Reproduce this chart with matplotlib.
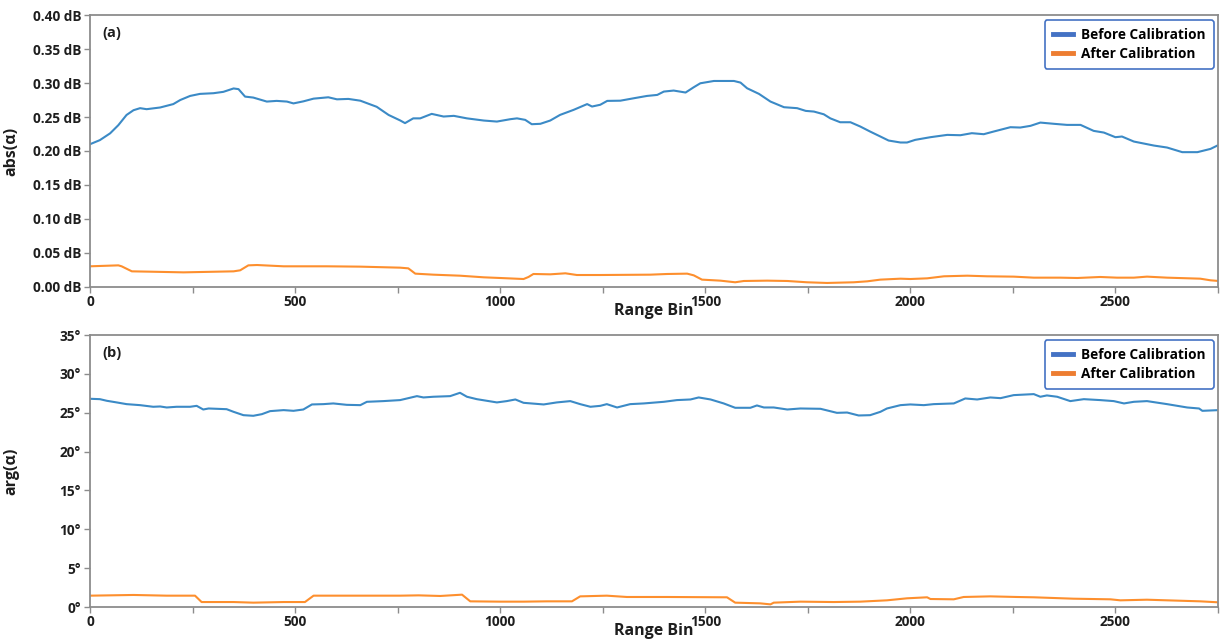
import matplotlib
matplotlib.use('Agg')
import matplotlib.pyplot as plt
from matplotlib.lines import Line2D

# (a) abs(alpha), dB
abs_before_x = [0, 24, 49, 69, 89, 106, 122, 138, 171, 203, 220, 244, 268, 301, 325, 350, 362, 378,
                398, 431, 455, 480, 496, 520, 545, 581, 602, 630, 659, 699, 728, 756, 768, 788, 805,
                833, 862, 887, 919, 960, 992, 1025, 1041, 1061, 1077, 1098, 1122, 1146, 1179, 1212,
                1224, 1244, 1261, 1293, 1326, 1358, 1383, 1399, 1423, 1452, 1472, 1488, 1521, 1570,
                1586, 1602, 1631, 1659, 1692, 1724, 1745, 1765, 1789, 1805, 1829, 1854, 1878, 1902,
                1927, 1947, 1976, 1992, 2012, 2049, 2061, 2090, 2122, 2150, 2179, 2203, 2244, 2268,
                2293, 2317, 2350, 2382, 2415, 2447, 2472, 2500, 2516, 2545, 2594, 2626, 2663, 2700,
                2732, 2752]
abs_before_y = [0.210, 0.216, 0.226, 0.238, 0.253, 0.260, 0.263, 0.2615, 0.264, 0.269, 0.275, 0.281,
                0.284, 0.285, 0.287, 0.292, 0.291, 0.280, 0.2786, 0.2727, 0.2737, 0.2727, 0.270,
                0.273, 0.277, 0.279, 0.276, 0.2766, 0.274, 0.265, 0.253, 0.245, 0.241, 0.248, 0.248,
                0.2546, 0.2507, 0.2517, 0.248, 0.2448, 0.2433, 0.2468, 0.248, 0.2458, 0.2394, 0.240,
                0.2448, 0.2531, 0.2605, 0.269, 0.2654, 0.268, 0.2737, 0.274, 0.2776, 0.281, 0.2825,
                0.2874, 0.2889, 0.286, 0.2938, 0.2996, 0.303, 0.303, 0.3006, 0.2923, 0.284, 0.2727,
                0.2644, 0.263, 0.259, 0.258, 0.254, 0.248, 0.2423, 0.2423, 0.236, 0.2286, 0.2213,
                0.2154, 0.2125, 0.2125, 0.2164, 0.2203, 0.2213, 0.2237, 0.2232, 0.2262, 0.2247,
                0.2286, 0.235, 0.2345, 0.237, 0.2418, 0.240, 0.2384, 0.2384, 0.2296, 0.2271, 0.2203,
                0.2213, 0.2139, 0.208, 0.2051, 0.1983, 0.1983, 0.2031, 0.209]

abs_after_x = [0, 69, 77, 102, 146, 228, 350, 366, 386, 407, 472, 577, 659, 756, 776, 793, 837, 902,
               960, 1000, 1057, 1069, 1081, 1122, 1159, 1187, 1244, 1366, 1407, 1456, 1472, 1492,
               1537, 1573, 1594, 1651, 1700, 1748, 1797, 1862, 1895, 1927, 1976, 2000, 2041, 2082,
               2139, 2187, 2252, 2301, 2366, 2407, 2463, 2504, 2545, 2577, 2626, 2707, 2732, 2752]
abs_after_y = [0.0304, 0.0318, 0.0304, 0.023, 0.0225, 0.0215, 0.023, 0.0245, 0.0318, 0.0323, 0.0304,
               0.0304, 0.0299, 0.0284, 0.0274, 0.0196, 0.0181, 0.0166, 0.0142, 0.0132, 0.0117,
               0.0147, 0.0191, 0.0186, 0.0201, 0.0176, 0.0176, 0.0181, 0.0191, 0.0196, 0.0171,
               0.0108, 0.0093, 0.0069, 0.0088, 0.0093, 0.0088, 0.0069, 0.0059, 0.0069, 0.0083,
               0.0108, 0.0122, 0.0117, 0.0127, 0.0157, 0.0166, 0.0157, 0.0152, 0.0137, 0.0137,
               0.0132, 0.0147, 0.0137, 0.0137, 0.0152, 0.0137, 0.0122, 0.0098, 0.0088]

# (b) arg(alpha), degrees
arg_before_x = [0, 24, 41, 65, 89, 122, 154, 171, 187, 211, 244, 260, 276, 289, 333, 350, 374, 398,
                419, 439, 472, 496, 520, 541, 569, 593, 626, 659, 675, 715, 756, 797, 813, 837, 878,
                902, 919, 943, 992, 1016, 1037, 1057, 1106, 1138, 1171, 1195, 1220, 1244, 1260, 1285,
                1317, 1350, 1399, 1431, 1464, 1484, 1513, 1545, 1573, 1610, 1626, 1643, 1667, 1700,
                1732, 1781, 1821, 1846, 1874, 1902, 1927, 1943, 1976, 2000, 2033, 2057, 2106, 2134,
                2163, 2195, 2220, 2252, 2301, 2317, 2333, 2358, 2390, 2423, 2463, 2496, 2521, 2545,
                2577, 2626, 2675, 2704, 2712, 2752]
arg_before_y = [26.8, 26.75, 26.54, 26.33, 26.11, 25.98, 25.77, 25.81, 25.68, 25.77, 25.77, 25.89,
                25.42, 25.55, 25.46, 25.12, 24.69, 24.61, 24.82, 25.21, 25.34, 25.25, 25.42, 26.07,
                26.11, 26.2, 26.02, 25.98, 26.41, 26.5, 26.63, 27.14, 26.97, 27.06, 27.14, 27.57,
                27.06, 26.75, 26.33, 26.5, 26.71, 26.28, 26.07, 26.33, 26.5, 26.11, 25.77, 25.89,
                26.11, 25.68, 26.11, 26.2, 26.41, 26.63, 26.71, 26.97, 26.71, 26.2, 25.64, 25.64,
                25.94, 25.68, 25.68, 25.42, 25.55, 25.51, 24.99, 25.03, 24.65, 24.69, 25.12, 25.55,
                25.98, 26.07, 25.98, 26.11, 26.2, 26.84, 26.71, 26.97, 26.88, 27.27, 27.4, 27.06,
                27.23, 27.06, 26.5, 26.75, 26.63, 26.5, 26.2, 26.41, 26.5, 26.11, 25.68, 25.55,
                25.25, 25.34]

arg_after_x = [0, 106, 187, 256, 272, 350, 398, 472, 524, 545, 634, 756, 801, 854, 907, 927, 1000,
               1057, 1114, 1175, 1195, 1260, 1309, 1407, 1553, 1573, 1634, 1659, 1667, 1732, 1813,
               1878, 1943, 1992, 2041, 2049, 2106, 2130, 2195, 2260, 2301, 2398, 2488, 2512, 2577,
               2626, 2707, 2752]
arg_after_y = [1.46, 1.55, 1.46, 1.46, 0.64, 0.64, 0.56, 0.64, 0.64, 1.46, 1.46, 1.46, 1.5, 1.42,
               1.59, 0.73, 0.69, 0.69, 0.73, 0.73, 1.37, 1.46, 1.29, 1.29, 1.25, 0.56, 0.47, 0.34,
               0.56, 0.69, 0.64, 0.69, 0.86, 1.12, 1.25, 1.03, 0.99, 1.29, 1.37, 1.29, 1.25, 1.07,
               0.99, 0.86, 0.94, 0.86, 0.73, 0.6]

abs_ticks = [0.0, 0.05, 0.10, 0.15, 0.20, 0.25, 0.30, 0.35, 0.40]
arg_ticks = [0, 5, 10, 15, 20, 25, 30, 35]
x_ticks = list(range(0, 2751, 250))
series_names = ['Before Calibration', 'After Calibration']

plt.rcParams['font.family'] = ['Open Sans', 'DejaVu Sans']
plt.rcParams['font.weight'] = 'bold'

line_blue = '#3b8ac6'
line_orange = '#fd8f2e'
leg_blue = '#4472c4'
leg_orange = '#ed7d31'
spine_col = '#8c8c8c'
txt = '#1e1e1e'

fig = plt.figure(figsize=(12.2, 6.42), dpi=100)
ax1 = fig.add_axes([0.0738, 0.553, 0.9245, 0.4236])
ax2 = fig.add_axes([0.0738, 0.0545, 0.9245, 0.4236])


def style_axis(ax, yticks, ylabels, ylabel, tag):
    ax.set_xlim(0, 2750)
    ax.set_ylim(yticks[0], yticks[-1])
    ax.set_yticks(yticks)
    ax.set_yticklabels(ylabels)
    ax.set_xticks(x_ticks)
    ax.set_xticklabels([str(t) if t % 500 == 0 else '' for t in x_ticks])
    for s in ax.spines.values():
        s.set_color(spine_col)
        s.set_linewidth(1.3)
    ax.tick_params(axis='both', colors=spine_col, labelcolor=txt, labelsize=9.8,
                   length=4, width=1)
    ax.tick_params(axis='x', pad=1.5)
    ax.tick_params(axis='y', pad=2.5)
    ax.set_xlabel('Range Bin', fontsize=11.5, fontweight='bold', color=txt)
    ax.xaxis.set_label_coords(0.5, -0.058)
    ax.set_ylabel(ylabel, fontsize=11.5, fontweight='bold', color=txt)
    ax.yaxis.set_label_coords(-0.063, 0.5)
    ax.text(0.0105, 0.935, tag, transform=ax.transAxes, fontsize=10.5, fontweight='bold',
            va='center', ha='left', color=txt)
    handles = [Line2D([], [], color=leg_blue, lw=3.5), Line2D([], [], color=leg_orange, lw=3.5)]
    leg = ax.legend(handles, series_names, loc='upper right', prop={'size': 9.8, 'weight': 'bold'},
                    frameon=True, fancybox=True, handlelength=1.5, handletextpad=0.6,
                    borderpad=0.6, labelspacing=0.35, borderaxespad=0,
                    bbox_to_anchor=(0.9965, 0.982))
    leg.get_frame().set_edgecolor(leg_blue)
    leg.get_frame().set_linewidth(1.2)
    leg.get_frame().set_alpha(1)


ax1.plot(abs_before_x, abs_before_y, color=line_blue, lw=1.5)
ax1.plot(abs_after_x, abs_after_y, color=line_orange, lw=1.5)
style_axis(ax1, abs_ticks, ['%.2f dB' % v for v in abs_ticks], 'abs(α)', '(a)')

ax2.plot(arg_before_x, arg_before_y, color=line_blue, lw=1.5)
ax2.plot(arg_after_x, arg_after_y, color=line_orange, lw=1.5)
style_axis(ax2, arg_ticks, ['%d°' % v for v in arg_ticks], 'arg(α)', '(b)')

fig.savefig('out.png', dpi=100)
